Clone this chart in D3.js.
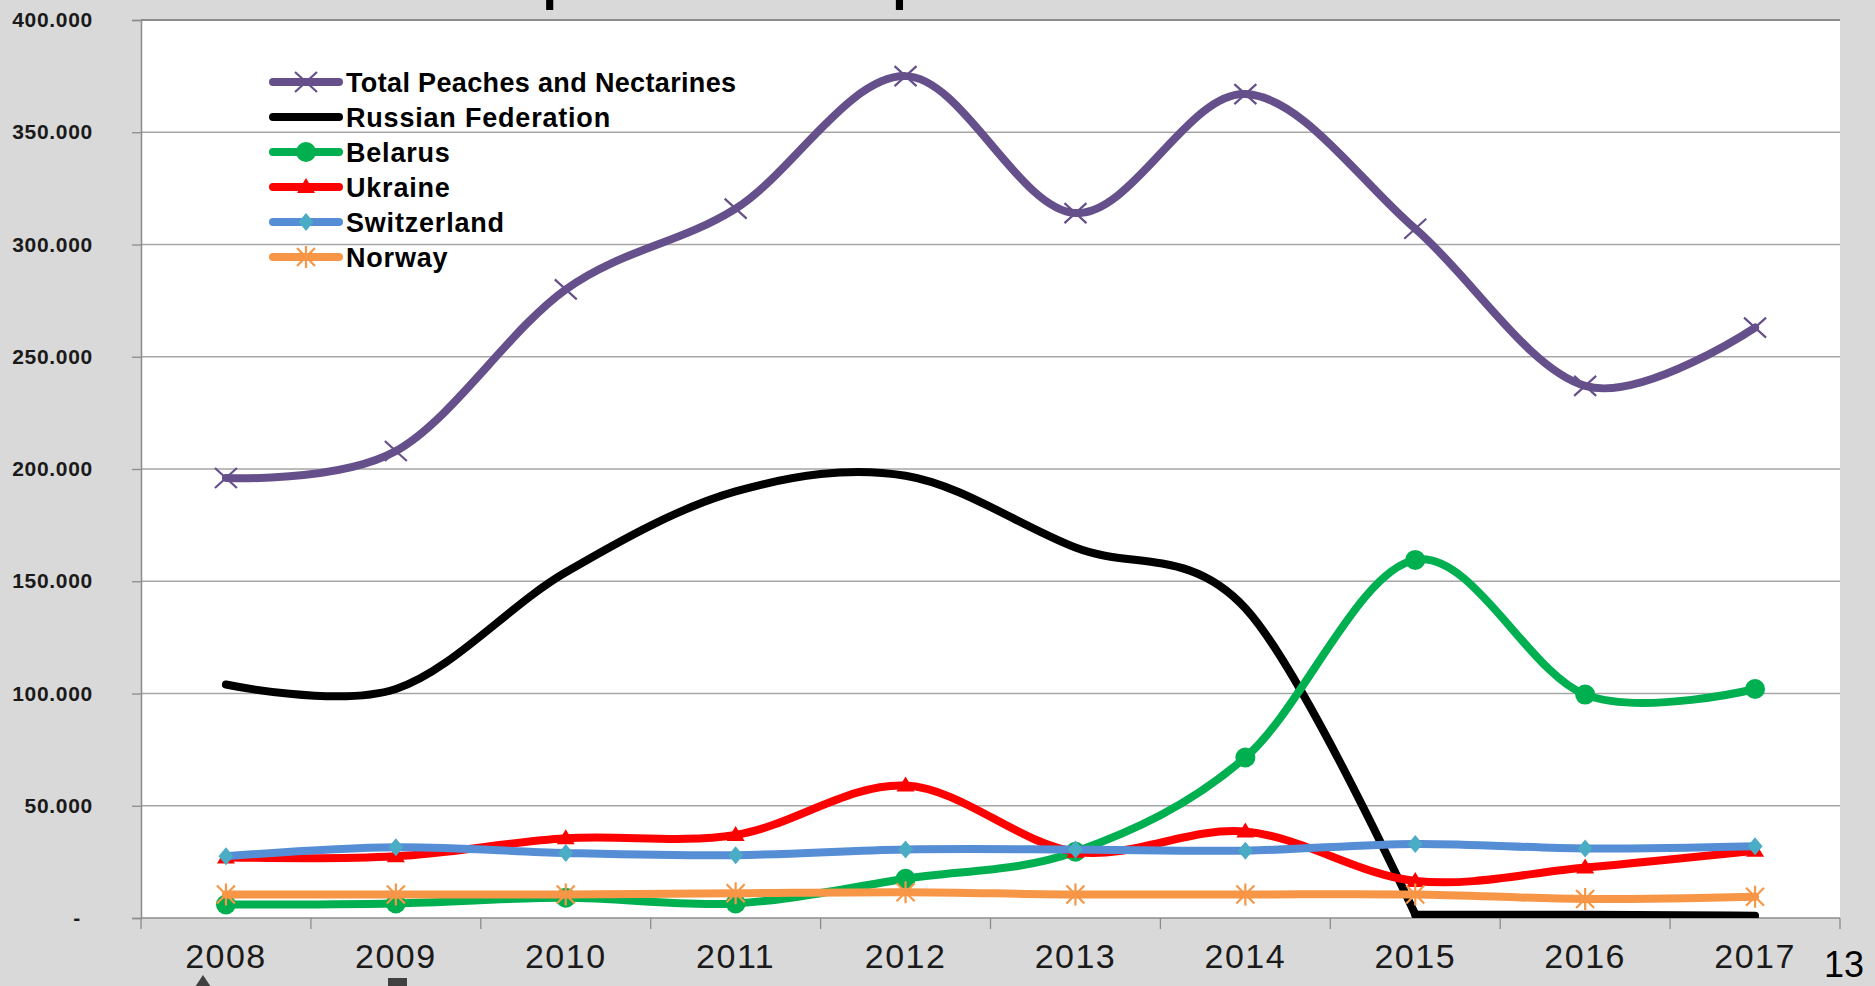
<!DOCTYPE html>
<html>
<head>
<meta charset="utf-8">
<script src="https://cdn.jsdelivr.net/npm/d3@7"></script>
<style>
  body { margin: 0; background: #d9d9d9; overflow: hidden; }
  svg { display: block; }
</style>
</head>
<body>
<div id="chart"></div>
<script>
// data (tonnes)
const years = ["2008", "2009", "2010", "2011", "2012", "2013", "2014", "2015", "2016", "2017"];
const yTicks = [0, 50000, 100000, 150000, 200000, 250000, 300000, 350000, 400000];

const totalPeaches = [196000, 208000, 280000, 316000, 375000, 314000, 367000, 307000, 237000, 263000];
const russia = [104000, 102000, 154000, 190000, 197000, 165000, 138000, 1500, 1500, 1000];
const belarus = [6000, 6500, 9000, 6500, 17500, 29500, 71500, 159500, 99500, 102000];
const ukraine = [27000, 27500, 35500, 37000, 59000, 29500, 38500, 16500, 22500, 30000];
const switzerland = [27500, 31500, 29000, 28000, 30500, 30500, 30000, 33000, 31000, 32000];
const norway = [10500, 10500, 10500, 11000, 11500, 10500, 10500, 10500, 8500, 9500];

const seriesNames = ["Total Peaches and Nectarines", "Russian Federation", "Belarus", "Ukraine", "Switzerland", "Norway"];
const seriesValues = [totalPeaches, russia, belarus, ukraine, switzerland, norway];

const styles = [
  { color: "#66508c", marker: "x", mcolor: "#66508c" },
  { color: "#000000", marker: null },
  { color: "#00b050", marker: "circle", mcolor: "#00b050" },
  { color: "#ff0000", marker: "triangle", mcolor: "#ff0000" },
  { color: "#558ed5", marker: "diamond", mcolor: "#4bacc6" },
  { color: "#f79646", marker: "star", mcolor: "#f79646" },
];

const W = 1875, H = 986;
const plot = { left: 141, right: 1840, top: 20, bottom: 918 };

const svg = d3.select("#chart").append("svg")
  .attr("width", W).attr("height", H);

// title, mostly cut off at the top edge (as on the slide)
svg.append("text")
  .attr("x", 479).attr("y", -1)
  .attr("font-family", "Liberation Sans, Arial, sans-serif")
  .attr("font-weight", "bold")
  .attr("font-size", 52)
  .attr("fill", "#000")
  .text("Exports of fresh peaches and nectarines");

svg.append("rect")
  .attr("x", plot.left).attr("y", plot.top)
  .attr("width", plot.right - plot.left).attr("height", plot.bottom - plot.top)
  .attr("fill", "#fff");

const x = d3.scaleBand().domain(years).range([plot.left, plot.right]);
const cx = (d) => x(d) + x.bandwidth() / 2;
const y = d3.scaleLinear().domain([0, 400000]).range([plot.bottom, plot.top]);

// gridlines
svg.append("g")
  .selectAll("line")
  .data(yTicks.filter((d) => d > 0))
  .join("line")
  .attr("x1", plot.left).attr("x2", plot.right)
  .attr("y1", (d) => y(d)).attr("y2", (d) => y(d))
  .attr("stroke", (d) => (d === 400000 ? "#8c8c8c" : "#a6a6a6"))
  .attr("stroke-width", (d) => (d === 400000 ? 2 : 1.3));

// y axis
const fmt = (d) => (d === 0 ? "-" : d3.format(",")(d).replace(/,/g, "."));
const yAxis = svg.append("g")
  .attr("transform", `translate(${plot.left},0)`)
  .call(d3.axisLeft(y).tickValues(yTicks).tickSize(9).tickPadding(39).tickFormat(fmt));
yAxis.select(".domain").attr("stroke", "#8c8c8c").attr("stroke-width", 1.5);
yAxis.selectAll(".tick line").attr("stroke", "#8c8c8c").attr("stroke-width", 1.3);
yAxis.selectAll(".tick text")
  .attr("font-family", "Liberation Sans, Arial, sans-serif")
  .attr("font-weight", "bold")
  .attr("font-size", 21)
  .attr("letter-spacing", 0.7)
  .attr("fill", "#1a1a1a")
  .attr("dx", (d) => (d === 0 ? -12 : 0));

// x axis: ticks on category boundaries, labels centred
const xg = svg.append("g");
xg.append("line")
  .attr("x1", plot.left).attr("x2", plot.right)
  .attr("y1", plot.bottom).attr("y2", plot.bottom)
  .attr("stroke", "#8c8c8c").attr("stroke-width", 1.5);
xg.selectAll(".xtick")
  .data(years.concat(["end"]))
  .join("line")
  .attr("class", "xtick")
  .attr("x1", (d) => (d === "end" ? plot.right : x(d)))
  .attr("x2", (d) => (d === "end" ? plot.right : x(d)))
  .attr("y1", plot.bottom).attr("y2", plot.bottom + 11)
  .attr("stroke", "#8c8c8c").attr("stroke-width", 1.3);
xg.selectAll(".xlabel")
  .data(years)
  .join("text")
  .attr("class", "xlabel")
  .attr("x", cx)
  .attr("y", 968)
  .attr("text-anchor", "middle")
  .attr("font-family", "Liberation Sans Narrow, Arial Narrow, sans-serif")
  .attr("font-size", 34)
  .attr("letter-spacing", 1.5)
  .attr("fill", "#1a1a1a")
  .text((d) => d);

// lines (Excel style smoothing)
svg.append("clipPath").attr("id", "plotclip")
  .append("rect")
  .attr("x", plot.left).attr("y", plot.top)
  .attr("width", plot.right - plot.left).attr("height", plot.bottom - plot.top);

const smooth = d3.line()
  .x((d) => cx(d.year))
  .y((d) => y(d.value))
  .curve(d3.curveCardinal.tension(0));

const straight = d3.line()
  .x((d) => cx(d.year))
  .y((d) => y(d.value))
  .curve(d3.curveMonotoneX);

const markerPath = {
  x: "M-11,-10L11,10M-11,10L11,-10",
  star: "M-9,-9L9,9M-9,9L9,-9M0,-11V11",
  triangle: "M0,-9L9,6L-9,6Z",
  diamond: "M0,-9L7.5,0L0,9L-7.5,0Z",
};

function drawMarker(sel, st) {
  if (st.marker === "circle") {
    sel.append("circle").attr("r", 10).attr("fill", st.mcolor);
  } else if (st.marker === "x" || st.marker === "star") {
    sel.append("path").attr("d", markerPath[st.marker])
      .attr("stroke", st.mcolor).attr("stroke-width", 2.2).attr("fill", "none");
  } else if (st.marker) {
    sel.append("path").attr("d", markerPath[st.marker]).attr("fill", st.mcolor);
  }
}

seriesValues.forEach((vals, si) => {
  const st = styles[si];
  const pts = vals.map((v, i) => ({ year: years[i], value: v }));
  const g = svg.append("g");
  // Russian Federation: smooth down to 2015, then it lies flat on the axis
  const parts = si === 1
    ? [smooth(pts.slice(0, 8)), straight(pts.slice(7))]
    : [smooth(pts)];
  parts.forEach((d) => {
    g.append("path")
      .attr("d", d)
      .attr("clip-path", "url(#plotclip)")
      .attr("fill", "none")
      .attr("stroke", st.color)
      .attr("stroke-width", 8)
      .attr("stroke-linecap", "round")
      .attr("stroke-linejoin", "round");
  });
  if (st.marker) {
    g.selectAll(".mk")
      .data(pts)
      .join("g")
      .attr("class", "mk")
      .attr("transform", (d) => `translate(${cx(d.year)},${y(d.value)})`)
      .each(function () { drawMarker(d3.select(this), st); });
  }
});

// legend
const legend = svg.append("g");
seriesNames.forEach((name, i) => {
  const st = styles[i];
  const ry = 82 + i * 35;
  const row = legend.append("g");
  row.append("line")
    .attr("x1", 273).attr("x2", 339)
    .attr("y1", ry).attr("y2", ry)
    .attr("stroke", st.color).attr("stroke-width", 8)
    .attr("stroke-linecap", "round");
  if (st.marker) {
    drawMarker(row.append("g").attr("transform", `translate(306,${ry})`), st);
  }
  row.append("text")
    .attr("x", 346).attr("y", ry + 10)
    .attr("font-family", "Liberation Sans, Arial, sans-serif")
    .attr("font-weight", "bold")
    .attr("font-size", 27)
    .attr("letter-spacing", i === 0 ? 0.35 : 0.8)
    .attr("fill", "#000")
    .text(name);
});

// bits of slide shapes cut off at the bottom edge
svg.append("path").attr("d", "M203,975L217,996L189,996Z").attr("fill", "#404040");
svg.append("rect").attr("x", 388).attr("y", 978).attr("width", 19).attr("height", 20).attr("fill", "#404040");

// slide number
svg.append("text")
  .attr("x", 1844).attr("y", 977)
  .attr("text-anchor", "middle")
  .attr("font-family", "Liberation Sans Narrow, Arial Narrow, sans-serif")
  .attr("font-size", 36)
  .attr("fill", "#000")
  .text("13");
</script>
</body>
</html>
